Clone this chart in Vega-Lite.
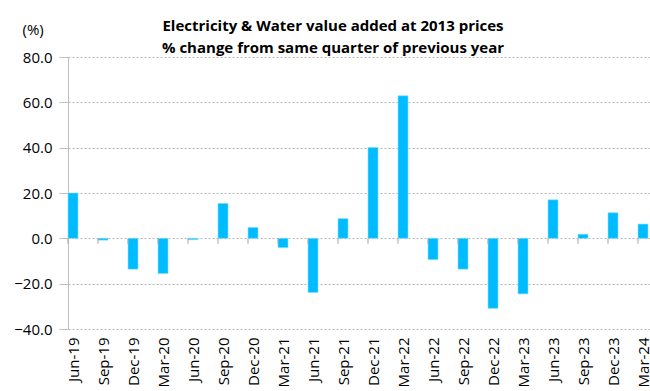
{
  "$schema": "https://vega.github.io/schema/vega-lite/v6.json",
  "width": 582,
  "height": 272,
  "autosize": "none",
  "padding": {"left": 68, "top": 57, "right": 0, "bottom": 62},
  "background": "white",
  "title": {
    "text": ["Electricity & Water value added at 2013 prices", "% change from same quarter of previous year"],
    "font": "Open Sans",
    "fontSize": 15,
    "fontWeight": "bold",
    "color": "#000000",
    "lineHeight": 22,
    "anchor": "middle",
    "frame": "group",
    "dx": -26,
    "offset": -34
  },
  "config": {
    "view": {"stroke": null},
    "font": "Open Sans"
  },
  "data": {
    "values": [
      {"q": "Jun-19", "v": 20.0, "s": "a"},
      {"q": "Sep-19", "v": -0.8, "s": "a"},
      {"q": "Dec-19", "v": -13.6, "s": "a"},
      {"q": "Mar-20", "v": -15.5, "s": "a"},
      {"q": "Jun-20", "v": -0.6, "s": "a"},
      {"q": "Sep-20", "v": 15.4, "s": "a"},
      {"q": "Dec-20", "v": 4.8, "s": "a"},
      {"q": "Mar-21", "v": -4.1, "s": "a"},
      {"q": "Jun-21", "v": -23.9, "s": "a"},
      {"q": "Sep-21", "v": 8.7, "s": "a"},
      {"q": "Dec-21", "v": 40.1, "s": "a"},
      {"q": "Mar-22", "v": 62.9, "s": "a"},
      {"q": "Jun-22", "v": -9.4, "s": "a"},
      {"q": "Sep-22", "v": -13.6, "s": "a"},
      {"q": "Dec-22", "v": -30.9, "s": "a"},
      {"q": "Mar-23", "v": -24.5, "s": "a"},
      {"q": "Jun-23", "v": 17.0, "s": "a"},
      {"q": "Sep-23", "v": 1.8, "s": "a"},
      {"q": "Dec-23", "v": 11.3, "s": "a"},
      {"q": "Mar-24", "v": 6.3, "s": "a"}
    ]
  },
  "encoding": {
    "x": {
      "field": "q",
      "type": "nominal",
      "sort": null,
      "scale": {"range": [0, 600], "paddingInner": 0, "paddingOuter": 0},
      "axis": {
        "title": null,
        "domain": false,
        "ticks": false,
        "grid": false,
        "labelAngle": -90,
        "labelAlign": "right",
        "labelBaseline": "middle",
        "labelOffset": -9,
        "labelFont": "Open Sans",
        "labelFontSize": 15,
        "labelColor": "#000000",
        "labelPadding": 8
      }
    }
  },
  "layer": [
    {
      "mark": {"type": "bar", "color": "#00BCFF", "stroke": "#7FDDFF", "strokeWidth": 0.6},
      "encoding": {
        "xOffset": {"field": "s", "type": "nominal", "scale": {"domain": ["a", "b", "c"], "paddingInner": 0, "paddingOuter": 0}},
        "y": {
          "field": "v",
          "type": "quantitative",
          "scale": {"domain": [-40, 80], "nice": false, "zero": false},
          "axis": {
            "values": [-40, -20, 0, 20, 40, 60, 80],
            "format": ".1f",
            "title": "(%)",
            "titleAngle": 0,
            "titleAlign": "left",
            "titleBaseline": "middle",
            "titleX": -46,
            "titleY": -28,
            "titleFont": "Open Sans",
            "titleFontSize": 15,
            "titleFontWeight": "normal",
            "titleColor": "#000000",
            "labelFont": "Open Sans",
            "labelFontSize": 15,
            "labelColor": "#000000",
            "labelPadding": 7,
            "domainColor": "#BFBFBF",
            "domainWidth": 1,
            "tickColor": "#BFBFBF",
            "tickSize": 9,
            "gridColor": "#A6A6A6",
            "gridDash": [2, 2],
            "gridWidth": 0.8
          }
        }
      }
    },
    {
      "mark": {"type": "rule", "color": "#BFBFBF", "strokeWidth": 2},
      "encoding": {"y": {"datum": 0, "type": "quantitative"}}
    },
    {
      "mark": {"type": "rule", "color": "#A6A6A6", "strokeWidth": 1},
      "encoding": {
        "x": {"field": "q", "type": "nominal", "sort": null, "bandPosition": 0},
        "y": {"datum": 0, "type": "quantitative"},
        "y2": {"datum": -2.4}
      }
    }
  ]
}
